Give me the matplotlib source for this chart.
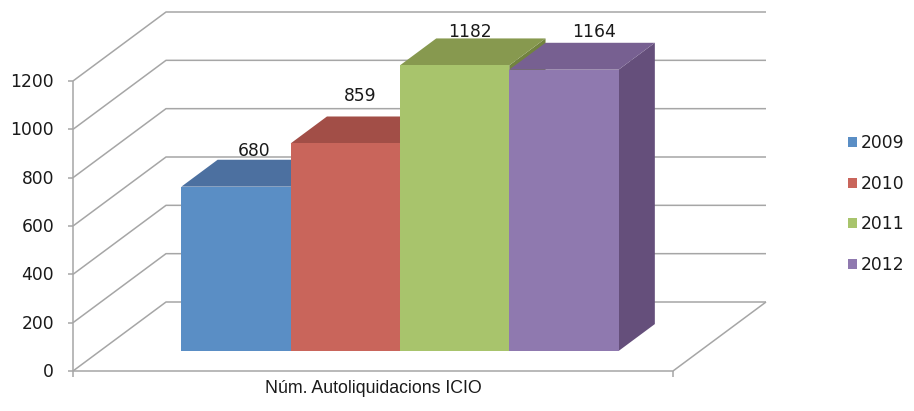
import matplotlib
matplotlib.use("Agg")
import matplotlib.pyplot as plt
from matplotlib.patches import Polygon, Patch

# ---- data ----
category = "Núm. Autoliquidacions ICIO"
series_names = ["2009", "2010", "2011", "2012"]
values = [680, 859, 1182, 1164]
yticks = [0, 200, 400, 600, 800, 1000, 1200]

# ---- style ----
front_colors = ["#5A8EC5", "#C9655B", "#A8C46C", "#8F79AF"]
top_colors = ["#4C70A0", "#A24E47", "#87994F", "#776091"]
side_colors = ["#3F5F88", "#8A433D", "#72833F", "#654F7B"]
grid_color = "#A6A6A6"
text_color = "#1a1a1a"
FS = 12.3

W, H, DPI = 914, 411, 100
fig = plt.figure(figsize=(W / DPI, H / DPI), dpi=DPI)
ax = fig.add_axes([0, 0, 1, 1])
ax.set_axis_off()

# projection geometry (pixels)
x0_px, x1_px = 73, 673          # front floor edge
y0_px, ymax_px = 371, 81        # value 0 and 1200 on front plane (from top)
px_per_x = x1_px - x0_px
px_per_v = (y0_px - ymax_px) / 1200.0
ax.set_xlim(-x0_px / px_per_x, (W - x0_px) / px_per_x)
ax.set_ylim(-(H - y0_px) / px_per_v, y0_px / px_per_v)

DX = 93 / px_per_x              # depth shift in x units
DV = 69 / px_per_v              # depth shift in value units


def P(x, v, d):
    return (x + d * DX, v + d * DV)


gkw = dict(color=grid_color, lw=1.1, zorder=1, solid_capstyle="butt")
ymax = yticks[-1]
# gridlines: side wall diagonals + back wall horizontals
for t in yticks:
    a, b, c = P(0, t, 0), P(0, t, 1), P(1, t, 1)
    ax.plot([a[0], b[0], c[0]], [a[1], b[1], c[1]], **gkw)
# floor
a, b, c = P(0, 0, 0), P(1, 0, 0), P(1, 0, 1)
ax.plot([a[0], b[0], c[0]], [a[1], b[1], c[1]], **gkw)
# vertical axis
a, b = P(0, 0, 0), P(0, ymax, 0)
ax.plot([a[0], b[0]], [a[1], b[1]], **gkw)
tick_len_x = 5 / px_per_x
tick_len_v = 6 / px_per_v
for t in yticks:
    ax.plot([-tick_len_x, 0], [t, t], **gkw)
    ax.annotate(str(t), xy=(0, t), xytext=(-19, -1), textcoords="offset pixels",
                ha="right", va="center", fontsize=FS, color=text_color)
ax.plot([0, 0], [0, -tick_len_v], **gkw)
ax.plot([1, 1], [0, -tick_len_v], **gkw)

# bars
n = len(values)
w = 109.3 / px_per_x
d0, d1 = 0.29, 0.68
start = 0.5 - n * w / 2
label_off = [(-0.5, 4), (-3.5, 15), (-2.5, 1.5), (12, 5.5)]  # pixel tweaks
for i, v in enumerate(values):
    xa = start + i * w
    xb = xa + w
    z = 3 + i
    side = [P(xb, 0, d0), P(xb, 0, d1), P(xb, v, d1), P(xb, v, d0)]
    top = [P(xa, v, d0), P(xb, v, d0), P(xb, v, d1), P(xa, v, d1)]
    front = [P(xa, 0, d0), P(xb, 0, d0), P(xb, v, d0), P(xa, v, d0)]
    ax.add_patch(Polygon(side, closed=True, fc=side_colors[i], ec="none", zorder=z))
    ax.add_patch(Polygon(top, closed=True, fc=top_colors[i], ec="none", zorder=z))
    ax.add_patch(Polygon(front, closed=True, fc=front_colors[i], ec="none", zorder=z))
    anchor = P((xa + xb) / 2, v, (d0 + d1) / 2)
    anchor = (anchor[0], P(0, v, d1)[1])
    dx, dy = label_off[i]
    ax.annotate(str(v), xy=anchor, xytext=(dx, dy), textcoords="offset pixels",
                ha="center", va="baseline", fontsize=FS, color=text_color, zorder=10)

# category label
ax.annotate(category, xy=(0.5, 0), xytext=(0, -17), textcoords="offset pixels",
            ha="center", va="center", fontsize=12.8, color=text_color,
            family="Liberation Sans")

# legend
handles = [Patch(facecolor=c, edgecolor="none", label=s)
           for c, s in zip(front_colors, series_names)]
leg = ax.legend(handles=handles, loc="center left",
                bbox_to_anchor=(848 / W, 1 - 204 / H), frameon=False,
                fontsize=FS, handlelength=0.52, handleheight=0.52,
                handletextpad=0.25, labelspacing=1.33, borderpad=0,
                borderaxespad=0)
for t in leg.get_texts():
    t.set_color(text_color)

fig.savefig("out.png", dpi=DPI, facecolor="white")
